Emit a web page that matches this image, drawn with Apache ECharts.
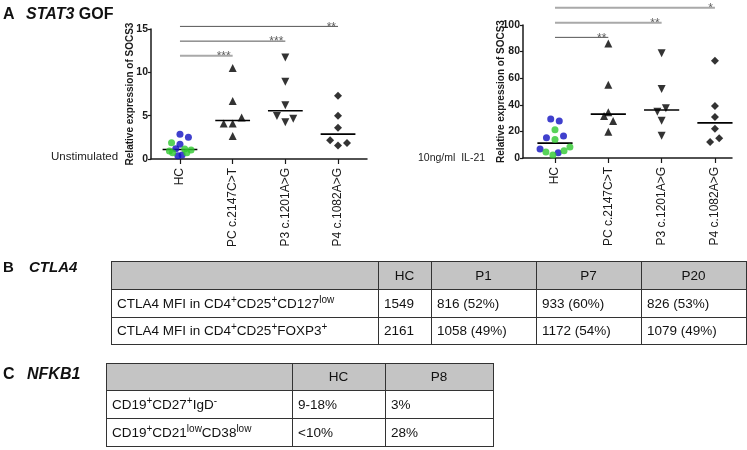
<!DOCTYPE html>
<html><head><meta charset="utf-8">
<script src="https://cdn.jsdelivr.net/npm/echarts@6/dist/echarts.min.js"></script>
<style>html,body{margin:0;padding:0;background:#fff}#c{width:747px;height:450px}</style>
</head><body><div id="c"></div>
<script>
// ---------- DATA ----------
const groups = ['HC', 'PC c.2147C>T', 'P3 c.1201A>G', 'P4 c.1082A>G'];
const yTicksUnstim = [0, 5, 10, 15];
const yTicksIL21 = [0, 20, 40, 60, 80, 100];

// Unstimulated
const unstimHcBlue = [2.85, 2.5, 1.69, 1.19, 0.38, 0.46];
const unstimHcBlueJitter = [0, 0.16, 0, -0.08, -0.04, 0.04];
const unstimHcGreen = [1.88, 0.92, 0.73, 1.15, 0.73, 1.04];
const unstimHcGreenJitter = [-0.16, -0.2, -0.14, 0.09, 0.13, 0.21];
const unstimPC = [10.5, 6.7, 4.8, 4.1, 4.1, 2.65];
const unstimPCJitter = [0, 0, 0.17, -0.17, 0, 0];
const unstimP3 = [11.7, 8.9, 6.2, 4.95, 4.25, 4.65];
const unstimP3Jitter = [0, 0, 0, -0.16, 0, 0.15];
const unstimP4 = [7.3, 5.0, 3.6, 2.15, 1.55, 1.85];
const unstimP4Jitter = [0, 0, 0, -0.15, 0, 0.17];
const unstimSig = [
  { from: 1, to: 2, y: 11.9, text: '***', light: true },
  { from: 1, to: 3, y: 13.6, text: '***', light: false },
  { from: 1, to: 4, y: 15.3, text: '**', light: false }
];

// 10ng/ml IL-21
const il21HcBlue = [29.3, 27.8, 15.3, 16.5, 6.8, 4.0];
const il21HcBlueJitter = [-0.08, 0.08, -0.16, 0.16, -0.28, 0.06];
const il21HcGreen = [21.3, 14.0, 4.5, 2.3, 5.5, 8.3];
const il21HcGreenJitter = [0, 0, -0.17, -0.04, 0.17, 0.28];
const il21PC = [86, 55, 34.4, 31.6, 27.8, 19.8];
const il21PCJitter = [0, 0, 0, -0.08, 0.09, 0];
const il21P3 = [78.7, 51.9, 37.4, 34.8, 28, 16.8];
const il21P3Jitter = [0, 0, 0.08, -0.08, 0, 0];
const il21P4 = [73.2, 39.1, 30.8, 22.0, 14.8, 12.0];
const il21P4Jitter = [0, 0, 0, 0, 0.08, -0.09];
const il21Sig = [
  { from: 1, to: 2, y: 90.7, text: '**', light: false },
  { from: 1, to: 3, y: 101.7, text: '**', light: true },
  { from: 1, to: 4, y: 113, text: '*', light: true }
];

// Tables
const tableBHeader = ['', 'HC', 'P1', 'P7', 'P20'];
const tableBRows = [
  ['CTLA4 MFI in CD4{s|+}CD25{s|+}CD127{s|low}', '1549', '816 (52%)', '933 (60%)', '826 (53%)'],
  ['CTLA4 MFI in CD4{s|+}CD25{s|+}FOXP3{s|+}', '2161', '1058 (49%)', '1172 (54%)', '1079 (49%)']
];
const tableCHeader = ['', 'HC', 'P8'];
const tableCRows = [
  ['CD19{s|+}CD27{s|+}IgD{s|-}', '9-18%', '3%'],
  ['CD19{s|+}CD21{s|low}CD38{s|low}', '<10%', '28%']
];

// ---------- BUILD ----------
const FONT = '"Liberation Sans", Arial, Helvetica, sans-serif';
const BLUE = '#1010c0', GREEN = '#2ec82e', INK = '#1a1a1a';

function median(a) {
  const s = a.slice().sort((p, q) => p - q); const n = s.length;
  return n % 2 ? s[(n - 1) / 2] : (s[n / 2 - 1] + s[n / 2]) / 2;
}
function pts(vals, jit, k) { return vals.map((v, i) => [k + jit[i], v]); }

const chartDefs = [
  { hcB: unstimHcBlue, hcBJ: unstimHcBlueJitter, hcG: unstimHcGreen, hcGJ: unstimHcGreenJitter,
    pc: unstimPC, pcJ: unstimPCJitter, p3: unstimP3, p3J: unstimP3Jitter, p4: unstimP4, p4J: unstimP4Jitter, sig: unstimSig },
  { hcB: il21HcBlue, hcBJ: il21HcBlueJitter, hcG: il21HcGreen, hcGJ: il21HcGreenJitter,
    pc: il21PC, pcJ: il21PCJitter, p3: il21P3, p3J: il21P3Jitter, p4: il21P4, p4J: il21P4Jitter, sig: il21Sig }
];

const series = [];
chartDefs.forEach((d, gi) => {
  const base = { xAxisIndex: gi, yAxisIndex: gi, animation: false, silent: true };
  series.push(Object.assign({ type: 'scatter', data: pts(d.hcB, d.hcBJ, 1), symbol: 'circle', symbolSize: 7, itemStyle: { color: BLUE } }, base));
  series.push(Object.assign({ type: 'scatter', data: pts(d.hcG, d.hcGJ, 1), symbol: 'circle', symbolSize: 7, itemStyle: { color: GREEN } }, base));
  series.push(Object.assign({ type: 'scatter', data: pts(d.pc, d.pcJ, 2), symbol: 'triangle', symbolSize: 8, itemStyle: { color: '#000' } }, base));
  series.push(Object.assign({ type: 'scatter', data: pts(d.p3, d.p3J, 3), symbol: 'triangle', symbolRotate: 180, symbolSize: 8, itemStyle: { color: '#000' } }, base));
  series.push(Object.assign({ type: 'scatter', data: pts(d.p4, d.p4J, 4), symbol: 'diamond', symbolSize: 8, itemStyle: { color: '#000' } }, base));
  const allGroups = [d.hcB.concat(d.hcG), d.pc, d.p3, d.p4];
  allGroups.forEach((g, k) => {
    const m = median(g);
    series.push(Object.assign({ type: 'line', data: [[k + 1 - 0.33, m], [k + 1 + 0.33, m]], symbol: 'none',
      lineStyle: { color: '#000', width: 1.6 }, z: 1 }, base));
  });
  d.sig.forEach(s => {
    series.push(Object.assign({ type: 'line', data: [[s.from, s.y], [s.to, s.y]], symbol: 'none', clip: false,
      lineStyle: { color: s.light ? '#a9a9a9' : '#555', width: s.light ? 2 : 1 } }, base));
    series.push(Object.assign({ type: 'scatter', data: [[s.to, s.y]], symbolSize: 0.1, clip: false,
      itemStyle: { color: 'rgba(0,0,0,0)' },
      label: { show: true, formatter: s.text, position: 'top', align: 'right', distance: 0, offset: [-2, 7],
        fontSize: 12, color: '#333', fontFamily: FONT } }, base));
  });
});

const grids = [
  { left: 151, top: 29, width: 216, height: 130 },
  { left: 523, top: 25, width: 209, height: 133 }
];
const xRanges = [[0.45, 4.55], [0.4, 4.32]];
const yMax = [15, 100], yInt = [5, 20];

const xAxis = grids.map((g, i) => ({
  type: 'value', gridIndex: i, min: xRanges[i][0], max: xRanges[i][1],
  axisLine: { show: true, lineStyle: { color: INK, width: 1.5 } },
  axisTick: { show: true, customValues: [1, 2, 3, 4], length: 5, lineStyle: { color: INK, width: 1.2 } },
  axisLabel: { customValues: [1, 2, 3, 4], formatter: v => groups[Math.round(v) - 1], rotate: 90, margin: 9,
    fontSize: 12, color: INK, fontFamily: FONT },
  splitLine: { show: false }
}));
const yAxis = grids.map((g, i) => ({
  type: 'value', gridIndex: i, min: 0, max: yMax[i], interval: yInt[i],
  name: 'Relative expression of SOCS3', nameLocation: 'middle', nameGap: i ? 17 : 16, nameMoveOverlap: false,
  nameTextStyle: { fontSize: 10, fontWeight: 'bold', color: INK, fontFamily: FONT },
  axisLine: { show: true, lineStyle: { color: INK, width: 1.5 } },
  axisTick: { show: true, length: 3, lineStyle: { color: INK, width: 1.2 } },
  axisLabel: { fontSize: 10.5, fontWeight: 'bold', color: INK, margin: 3, fontFamily: FONT },
  splitLine: { show: false }
}));

// ---------- TABLES (graphic) ----------
const graphic = [];
function txt(x, y, text, opt) {
  graphic.push({ type: 'text', x: x, y: y, silent: true, style: Object.assign({
    text: text, fill: '#111', fontFamily: FONT, fontSize: 13.5, align: 'left', verticalAlign: 'middle',
    lineHeight: 18, rich: { s: { fontSize: 10, verticalAlign: 'top', fontFamily: FONT, fill: '#111' },
      i: { fontStyle: 'italic', fontWeight: 'bold', fontSize: opt && opt.fontSize || 13, fontFamily: FONT, fill: '#111' } }
  }, opt || {}) });
}
function table(cols, rows, header, body) {
  graphic.push({ type: 'rect', silent: true, shape: { x: cols[0], y: rows[0], width: cols[cols.length - 1] - cols[0], height: rows[1] - rows[0] },
    style: { fill: '#c4c4c4' } });
  rows.forEach(r => graphic.push({ type: 'line', silent: true, shape: { x1: cols[0], y1: r + 0.5, x2: cols[cols.length - 1] + 1, y2: r + 0.5 },
    style: { stroke: '#333', lineWidth: 1 } }));
  cols.forEach(c => graphic.push({ type: 'line', silent: true, shape: { x1: c + 0.5, y1: rows[0], x2: c + 0.5, y2: rows[rows.length - 1] + 1 },
    style: { stroke: '#333', lineWidth: 1 } }));
  header.forEach((h, j) => { if (h) txt((cols[j] + cols[j + 1]) / 2, (rows[0] + rows[1]) / 2 + 1, h, { align: 'center' }); });
  body.forEach((row, r) => row.forEach((cell, j) => txt(cols[j] + 6, (rows[r + 1] + rows[r + 2]) / 2 + 1, cell)));
}
table([111, 378, 431, 536, 641, 746], [261, 289, 317, 344], tableBHeader, tableBRows);
table([106, 292, 385, 493], [363, 390, 418, 446], tableCHeader, tableCRows);

// Panel labels
txt(3, 15, 'A', { fontSize: 16, fontWeight: 'bold' });
txt(26, 15, '{i|STAT3} GOF', { fontSize: 16, fontWeight: 'bold' });
txt(3, 268, 'B', { fontSize: 15, fontWeight: 'bold' });
txt(29, 268, '{i|CTLA4}', { fontSize: 15, fontWeight: 'bold' });
txt(3, 375, 'C', { fontSize: 16, fontWeight: 'bold' });
txt(27, 375, '{i|NFKB1}', { fontSize: 16, fontWeight: 'bold' });
txt(51, 157, 'Unstimulated', { fontSize: 11.5, fill: '#222' });
txt(418, 158, '10ng/ml  IL-21', { fontSize: 10.5, fill: '#222' });

const chart = echarts.init(document.getElementById('c'), null, { renderer: 'canvas' });
chart.setOption({ animation: false, backgroundColor: '#fff', grid: grids, xAxis: xAxis, yAxis: yAxis, series: series, graphic: graphic });
</script></body></html>
